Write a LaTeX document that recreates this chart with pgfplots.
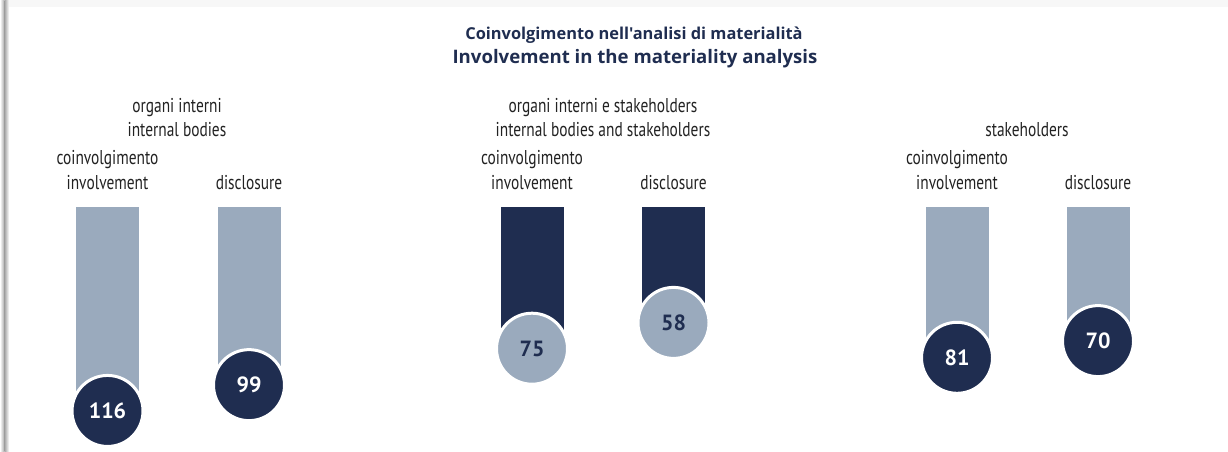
\documentclass[border=0pt]{standalone}
\usepackage{fontspec}
\setmainfont{PT Sans}
\newfontfamily\narrow{PT Sans}[FakeStretch=0.77]
\newfontfamily\titlefont{Open Sans}
\usepackage{pgfplots}
\pgfplotsset{compat=1.18}
\definecolor{navy}{HTML}{1F2D50}
\definecolor{steel}{HTML}{9AAABD}
\definecolor{labelgray}{HTML}{222222}

\begin{document}
\begin{tikzpicture}[x=1pt,y=1pt]
\useasboundingbox (0,0) rectangle (1228,-451);
% card and its shadow
\fill[black!3] (0,0) rectangle (1228,-7);
\shade[left color=white, right color=black!35] (0,0) rectangle (4.5,-451);
\shade[left color=black!35, right color=white] (4.5,0) rectangle (9,-451);

\begin{axis}[
  at={(0,0)}, anchor=north west,
  scale only axis, width=1228pt, height=451pt,
  hide axis, clip=false,
  xmin=0, xmax=1228,
  ymin=-154.7, ymax=142.4, y dir=reverse,
]
% top part of each bar
\addplot[ybar, bar width=62pt, bar shift=0pt, fill=steel, draw=steel, line width=0.5pt]
  coordinates {(107.5,-18.3) (249,-18.3) (957,-18.3) (1098,-18.3)};
\addplot[ybar, bar width=62pt, bar shift=0pt, fill=navy, draw=navy, line width=0.5pt]
  coordinates {(532,-18.3) (673.5,-18.3)};
% bars
\addplot[ybar, bar width=62pt, bar shift=0pt, fill=steel, draw=steel, line width=0.5pt]
  coordinates {(107.5,116) (249,99) (957,81) (1098,70)};
\addplot[ybar, bar width=62pt, bar shift=0pt, fill=navy, draw=navy, line width=0.5pt]
  coordinates {(532,75) (673.5,58)};
% circles with values
\addplot[only marks, mark=*, mark size=35.5pt,
  mark options={fill=navy, draw=white, line width=3pt},
  point meta=explicit symbolic, nodes near coords,
  every node near coord/.append style={anchor=center, text=white,
    font=\bfseries\fontsize{22}{22}\selectfont}]
  coordinates {(107.5,116) [116] (249,99) [99] (957,81) [81] (1098,70) [70]};
\addplot[only marks, mark=*, mark size=35.5pt,
  mark options={fill=steel, draw=white, line width=3pt},
  point meta=explicit symbolic, nodes near coords,
  every node near coord/.append style={anchor=center, text=navy,
    font=\bfseries\fontsize{22}{22}\selectfont}]
  coordinates {(532,75) [75] (673.5,58) [58]};
\end{axis}

% title
\node[anchor=base, text=navy, font=\titlefont\bfseries\fontsize{16.4}{16.4}\selectfont] at (634,-39) {Coinvolgimento nell'analisi di materialità};
\node[anchor=base, text=navy, font=\titlefont\bfseries\fontsize{18.6}{18.6}\selectfont] at (635,-63.5) {Involvement in the materiality analysis};

\tikzset{lab/.style={anchor=base, text=labelgray, font=\narrow\fontsize{20}{20}\selectfont}}
% group labels
\node[lab] at (177,-112) {organi interni};
\node[lab] at (177,-136) {internal bodies};
\node[lab] at (603,-112) {organi interni e stakeholders};
\node[lab] at (603,-136) {internal bodies and stakeholders};
\node[lab] at (1027,-136) {stakeholders};
% bar labels
\node[lab] at (107.5,-164) {coinvolgimento};
\node[lab] at (107.5,-189) {involvement};
\node[lab] at (249,-189) {disclosure};
\node[lab] at (532,-164) {coinvolgimento};
\node[lab] at (532,-189) {involvement};
\node[lab] at (673.5,-189) {disclosure};
\node[lab] at (957,-164) {coinvolgimento};
\node[lab] at (957,-189) {involvement};
\node[lab] at (1098,-189) {disclosure};
\end{tikzpicture}
\end{document}
